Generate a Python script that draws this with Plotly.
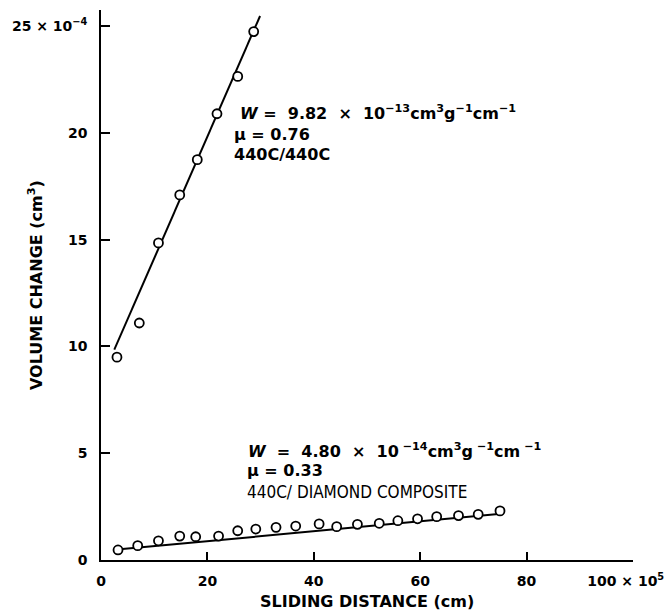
import plotly.graph_objects as go

# ---- data (x in units of 10^5 cm, y in units of 10^-4 cm^3) ----
steel_x = [3.0, 7.2, 10.8, 14.8, 18.1, 21.8, 25.7, 28.7]
steel_y = [9.5, 11.1, 14.85, 17.1, 18.75, 20.9, 22.65, 24.75]
steel_fit_x = [2.5, 29.9]
steel_fit_y = [9.85, 25.48]

diam_x = [3.2, 6.9, 10.8, 14.8, 17.8, 22.1, 25.7, 29.1, 32.9, 36.6,
          41.0, 44.3, 48.2, 52.3, 55.8, 59.5, 63.1, 67.2, 70.9, 75.0]
diam_y = [0.47, 0.67, 0.90, 1.12, 1.09, 1.12, 1.37, 1.45, 1.53, 1.59,
          1.69, 1.56, 1.67, 1.72, 1.84, 1.93, 2.03, 2.08, 2.14, 2.30]
diam_fit_x = [3.5, 74.7]
diam_fit_y = [0.50, 2.15]

NB = "\u00a0"
x_ticks = [0, 20, 40, 60, 80, 100]
x_ticktext = ["0", "20", "40", "60", "80", "100 × 10<sup>5</sup>" + NB * 3]
y_ticks = [0, 5, 10, 15, 20, 25]
y_ticktext = ["0", "5", "10", "15", "20", "25 × 10<sup>−4</sup>"]

BOLD = "DejaVu Sans"

fig = go.Figure()
for fx, fy in [(steel_fit_x, steel_fit_y), (diam_fit_x, diam_fit_y)]:
    fig.add_trace(go.Scatter(x=fx, y=fy, mode="lines",
                             line=dict(color="black", width=2), showlegend=False,
                             hoverinfo="skip"))
for px, py in [(steel_x, steel_y), (diam_x, diam_y)]:
    fig.add_trace(go.Scatter(x=px, y=py, mode="markers", showlegend=False,
                             marker=dict(symbol="circle", size=9, color="white",
                                         line=dict(color="black", width=1.8))))

axis_common = dict(showgrid=False, zeroline=False, showline=True, linecolor="black",
                   linewidth=1.6, ticks="inside", tickcolor="black", tickwidth=1.5,
                   ticklabeloverflow="allow", automargin=False,
                   tickfont=dict(family=BOLD, size=14, color="black", weight="bold"))
fig.update_xaxes(range=[0, 100], tickvals=x_ticks, ticktext=x_ticktext, ticklen=8,
                 ticklabelstandoff=7, **axis_common)
fig.update_yaxes(range=[0, 25.76], tickvals=y_ticks, ticktext=y_ticktext, ticklen=9,
                 ticklabelstandoff=9, **axis_common)

def ann(x, y, text, size=16, family=BOLD, **kw):
    d = dict(x=x, y=y, xref="x", yref="y", text=text, showarrow=False,
             xanchor="left", yanchor="middle",
             font=dict(family=family, size=size, color="black"))
    d.update(kw)
    fig.add_annotation(**d)

ann(25.67, 20.98, "<b><i>W</i>" + NB + "=" + NB * 2 + "9.82" + NB * 2 + "×" + NB * 2 +
    "10<sup>−13</sup>cm<sup>3</sup>g<sup>−1</sup>cm<sup>−1</sup></b>")
ann(24.54, 19.91, "<b>μ = 0.76</b>")
ann(24.54, 18.97, "<b>440C/440C</b>")

ann(27.18, 5.11, "<b><i>W</i>" + NB * 2 + "=" + NB * 2 + "4.80" + NB * 2 + "×" + NB * 2 +
    "10<sup>" + NB + "−14</sup>cm<sup>3</sup>g<sup>" + NB + "−1</sup>cm<sup>" + NB + "−1</sup></b>")
ann(26.99, 4.17, "<b>μ = 0.33</b>")
ann(26.99, 3.19, "440C/ DIAMOND COMPOSITE", size=17,
    family="DejaVu Sans Condensed, Liberation Sans")

# axis titles
fig.add_annotation(x=0.5, y=0, xref="paper", yref="paper", yshift=-41,
                   yanchor="middle", text="<b>SLIDING DISTANCE (cm)</b>", showarrow=False,
                   font=dict(family=BOLD, size=16, color="black"))
fig.add_annotation(x=0, y=0.5, xref="paper", yref="paper", xshift=-66,
                   text="<b>VOLUME CHANGE (cm<sup>3</sup>)</b>", textangle=-90,
                   showarrow=False, xanchor="center", yanchor="middle",
                   font=dict(family=BOLD, size=16, color="black"))

fig.update_layout(width=671, height=610, margin=dict(l=101, r=38, t=10, b=50),
                  paper_bgcolor="white", plot_bgcolor="white")
fig.write_html("out.html")
